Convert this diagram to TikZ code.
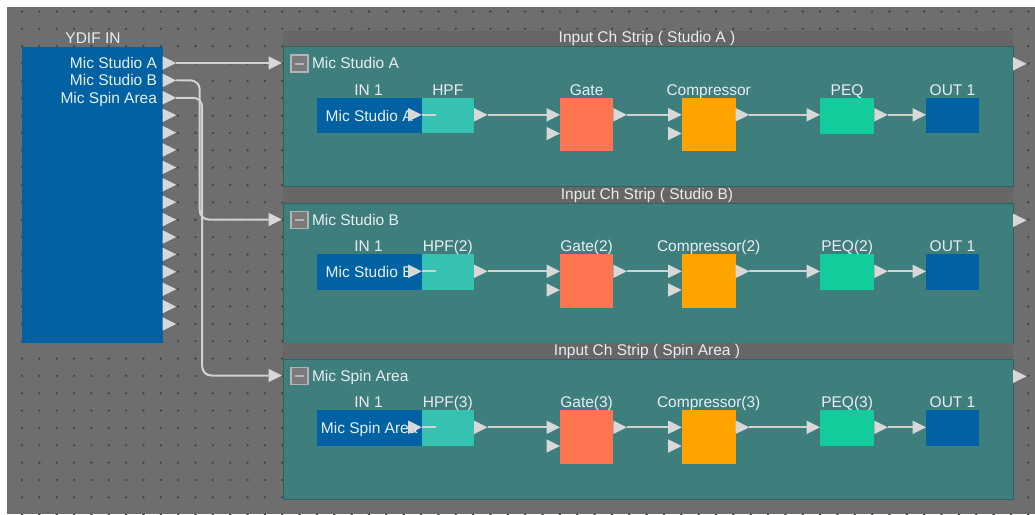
\documentclass[tikz,border=0pt]{standalone}
\usepackage{fontspec}
\setmainfont{Liberation Sans}
\definecolor{bggray}{HTML}{6E6E6E}
\definecolor{dotc}{HTML}{444444}
\definecolor{bluec}{HTML}{0062A2}
\definecolor{panelc}{HTML}{3E7F7E}
\definecolor{paneledge}{HTML}{2F6362}
\definecolor{barc}{HTML}{666666}
\definecolor{hpfc}{HTML}{36C2B1}
\definecolor{gatec}{HTML}{FF7552}
\definecolor{compc}{HTML}{FFA300}
\definecolor{peqc}{HTML}{12CC9C}
\definecolor{portc}{HTML}{D8D8D8}
\definecolor{wirec}{HTML}{D2D2D2}
\definecolor{textc}{HTML}{E8EEF0}
\definecolor{iconfill}{HTML}{7A7A7A}
\definecolor{iconedge}{HTML}{B4B4B4}
\newcommand{\ptri}[2]{%
  \coordinate (#1) at #2;
  \path (#1) ++(13.5,0) coordinate (#1-t);
  \fill[portc] (#1) ++(0,-6.7) -- ++(13.5,6.7) -- ++(-13.5,6.7) -- cycle;}
\newcommand{\chstrip}[5]{% id, top, title, mic name, suffix
  \begin{scope}[shift={(0,#2)}]
    \fill[barc] (283,-16) rectangle (1013,0);
    \node[lbl] (#1title) at (647,-9) {#3};
    \node[blk, fill=panelc, draw=paneledge, line width=1, minimum width=730, minimum height=140] (#1panel) at (283,0) {};
    \node[blk, fill=iconfill, draw=iconedge, line width=1.5, minimum width=17, minimum height=17] (#1icon) at (291,8.5) {};
    \draw[iconedge, line width=2] (#1icon.west) ++(4,0) -- ++(9,0);
    \node[lbl, anchor=west] (#1name) at (312,17) {#4};
    \ptri{#1in}{(268.5,16.5)}
    \ptri{#1out}{(1013,17.3)}
    % blocks
    \node[blk, fill=bluec, minimum width=105, minimum height=35.6] (#1inbox) at (316.7,51.3) {};
    \node[lbl] (#1intext) at (#1inbox.center) {#4};
    \node[blk, fill=hpfc, minimum width=52.3, minimum height=35.6] (#1hpf) at (421.7,51.3) {};
    \node[blk, fill=gatec, minimum width=53.3, minimum height=53.4] (#1gate) at (560,51.3) {};
    \node[blk, fill=compc, minimum width=54, minimum height=53.4] (#1comp) at (681.7,51.3) {};
    \node[blk, fill=peqc, minimum width=54.3, minimum height=36] (#1peq) at (820,51.3) {};
    \node[blk, fill=bluec, minimum width=53, minimum height=35.3] (#1outbox) at (926,51.3) {};
    % labels
    \node[lbl] at (368.5,43.3) {IN 1};
    \node[lbl] at (447.8,43.3) {HPF#5};
    \node[lbl] at (586.6,43.3) {Gate#5};
    \node[lbl] at (708.7,43.3) {Compressor#5};
    \node[lbl] at (847.1,43.3) {PEQ#5};
    \node[lbl] at (952.5,43.3) {OUT 1};
    % ports
    \ptri{#1ino}{(408.2,68.3)}
    \ptri{#1hpfo}{(474,68.3)}
    \ptri{#1gatei}{(546.5,68.3)}
    \ptri{#1gateii}{(546.5,87)}
    \ptri{#1gateo}{(613.3,68.3)}
    \ptri{#1compi}{(668.2,68.3)}
    \ptri{#1compii}{(668.2,87)}
    \ptri{#1compo}{(735.7,68.3)}
    \ptri{#1peqi}{(806.5,68.3)}
    \ptri{#1peqo}{(874.3,68.3)}
    \ptri{#1outi}{(912.5,68.3)}
    \coordinate (#1hpfin) at (435.5,68.3);
    % wires
    \draw[wire] (#1ino-t) -- (#1hpfin);
    \draw[wire] (#1hpfo-t) -- (#1gatei);
    \draw[wire] (#1gateo-t) -- (#1compi);
    \draw[wire] (#1compo-t) -- (#1peqi);
    \draw[wire] (#1peqo-t) -- (#1outi);
  \end{scope}}
\begin{document}
\begin{tikzpicture}[x=1pt,y=-1pt,
  blk/.style={inner sep=0, outer sep=0, anchor=north west, draw=none},
  lbl/.style={text=textc, inner sep=0, outer sep=0, font=\fontsize{15.5}{18}\selectfont, text height=10.8pt, text depth=0pt},
  wire/.style={draw=wirec, line width=2}]
\useasboundingbox (0,0) rectangle (1035,514);
\fill[white] (0,0) rectangle (1035,514);
\fill[bggray] (7,7) rectangle (1035,514);
\foreach \i in {0,...,59}
  \foreach \j in {0,...,29}
    \fill[dotc] (22+17.35*\i, 11.5+17.35*\j) circle (1.3pt);
% YDIF IN
\node[blk, fill=bluec, minimum width=141, minimum height=296] (ydif) at (21.5,46.5) {};
\node[lbl] (ydiftitle) at (93,38) {YDIF IN};
\node[lbl, anchor=east] (ydifa) at (157,63) {Mic Studio A};
\node[lbl, anchor=east] (ydifb) at (157,80.4) {Mic Studio B};
\node[lbl, anchor=east] (ydifc) at (157,97.8) {Mic Spin Area};
\foreach \k in {0,...,15}{
  \ptri{yo\k}{(162.7,63+17.4*\k)}
}
% strips
\chstrip{A}{46.5}{Input Ch Strip ( Studio A )}{Mic Studio A}{}
\chstrip{B}{203}{Input Ch Strip ( Studio B)}{Mic Studio B}{(2)}
\chstrip{C}{359}{Input Ch Strip ( Spin Area )}{Mic Spin Area}{(3)}
% connections
\draw[wire] (yo0-t) -- (Ain);
\draw[wire, rounded corners=9] (yo1-t) -- ++(23.5,0) |- (Bin);
\draw[wire, rounded corners=9] (yo2-t) -- ++(26,0) |- (Cin);
\end{tikzpicture}
\end{document}
